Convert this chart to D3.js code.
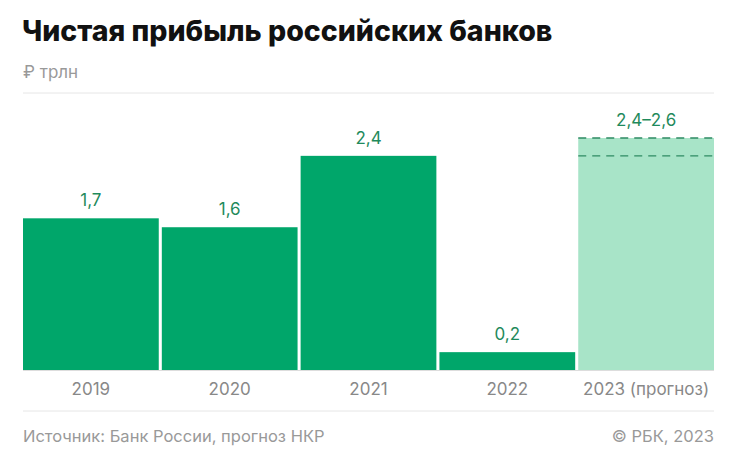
<!DOCTYPE html>
<html><head><meta charset="utf-8">
<script src="https://cdn.jsdelivr.net/npm/d3@7"></script>
<style>body{margin:0;background:#fff;font-family:Inter,Roboto,sans-serif}</style>
</head><body>
<svg id="chart" width="730" height="463"></svg>
<script>
const categories = ['2019', '2020', '2021', '2022', '2023 (прогноз)'];
const values = [1.7, 1.6, 2.4, 0.2, 2.6];
const forecastLow = 2.4;
const valueLabels = ['1,7', '1,6', '2,4', '0,2', '2,4–2,6'];

const svg = d3.select('#chart');
const x = d3.scaleBand().domain(categories).range([23, 714]).paddingInner(0.022);
const y = d3.scaleLinear().domain([0, 2.6]).range([370, 138]);

svg.append('text').attr('x', 22).attr('y', 41).attr('font-size', 28.5).attr('font-weight', 800)
  .attr('fill', '#111').text('Чистая прибыль российских банков');
svg.append('text').attr('x', 23).attr('y', 78).attr('font-size', 17).attr('fill', '#999').text('₽ трлн');
svg.append('line').attr('x1', 23).attr('x2', 714).attr('y1', 93).attr('y2', 93).attr('stroke', '#e6e6e6');

svg.selectAll('rect.bar').data(categories).join('rect')
  .attr('x', d => x(d)).attr('width', x.bandwidth())
  .attr('y', (d, i) => y(values[i])).attr('height', (d, i) => y(0) - y(values[i]))
  .attr('fill', (d, i) => i === 4 ? '#a8e4c8' : '#00a66a');

const last = categories[4];
[values[4], forecastLow].forEach(v => {
  svg.append('line').attr('x1', x(last)).attr('x2', x(last) + x.bandwidth())
    .attr('y1', y(v)).attr('y2', y(v)).attr('stroke', '#2e8a63').attr('stroke-width', 1.3)
    .attr('stroke-dasharray', '8,6');
});

svg.selectAll('text.val').data(categories).join('text')
  .attr('x', d => x(d) + x.bandwidth() / 2).attr('y', (d, i) => y(values[i]) - 12)
  .attr('text-anchor', 'middle').attr('font-size', 17).attr('fill', '#1f8a5c')
  .text((d, i) => valueLabels[i]);

svg.append('line').attr('x1', 23).attr('x2', 714).attr('y1', 370.5).attr('y2', 370.5).attr('stroke', '#ddd');
svg.selectAll('text.cat').data(categories).join('text')
  .attr('x', d => x(d) + x.bandwidth() / 2).attr('y', 395)
  .attr('text-anchor', 'middle').attr('font-size', 17).attr('fill', '#888').text(d => d);

svg.append('line').attr('x1', 23).attr('x2', 714).attr('y1', 411).attr('y2', 411).attr('stroke', '#e6e6e6');
svg.append('text').attr('x', 23).attr('y', 442).attr('font-size', 16.5).attr('fill', '#999')
  .text('Источник: Банк России, прогноз НКР');
svg.append('text').attr('x', 714).attr('y', 442).attr('text-anchor', 'end').attr('font-size', 16.5).attr('fill', '#999')
  .text('© РБК, 2023');
</script>
</body></html>
